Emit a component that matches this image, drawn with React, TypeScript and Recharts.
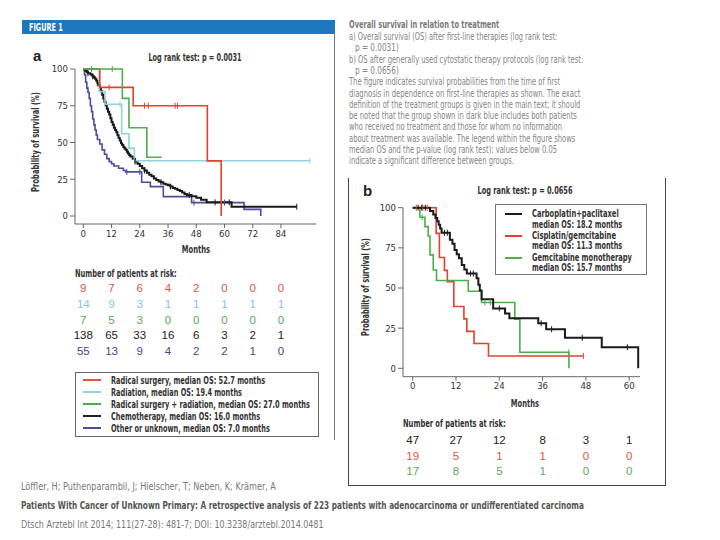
import React, { useLayoutEffect, useRef, useState } from 'react';
import { LineChart, Line, XAxis, YAxis } from 'recharts';

const FONT = '"Liberation Sans Narrow", "DejaVu Sans Condensed", "Arial Narrow", sans-serif';
const NUMFONT = '"Liberation Sans", Arial, sans-serif';

// panel a
const monthsA = [0, 12, 24, 36, 48, 60, 72, 84];
const pctTicks = [0, 25, 50, 75, 100];

const radicalSurgery = [[0, 100], [7, 87.5], [21.2, 75], [52.7, 37.5], [58.6, 0]];
const radiation = [[0, 100], [6.8, 84.6], [9.2, 76], [16.3, 56], [19.4, 46], [21.7, 37.6], [96.3, 37.6]];
const surgeryRadiation = [[0, 100], [16.6, 80], [19.4, 60], [27, 40], [33.3, 40]];
const chemotherapy = [
  [0, 100], [0.5, 99.3], [1, 98.6], [1.5, 97.8], [2, 97.1], [3, 96.4], [3.5, 95.7], [4, 95], [4.5, 94.2],
  [5, 93.3], [5.5, 92], [6, 90.5], [6.5, 89], [7, 87], [7.5, 84.8], [8, 82.5], [8.5, 80], [9, 77.5],
  [9.5, 75.3], [10, 73], [10.5, 71], [11, 69], [11.5, 66.5], [12, 64], [12.5, 62], [13, 60], [13.5, 58.5],
  [14, 57], [14.5, 55], [15, 53], [15.5, 51.3], [16, 49.5], [16.5, 48.3], [17, 47], [17.5, 46], [18, 45],
  [18.5, 43.7], [19, 42.5], [19.5, 41.5], [20, 40.5], [21, 39], [22, 37], [23, 35.5], [24, 34], [25, 32.5],
  [26, 31], [27, 29.5], [28, 28], [29, 27], [30, 25.5], [31, 24.5], [32, 23.5], [33, 23], [34, 22],
  [35, 21.5], [36, 21], [37, 20], [38, 19], [39, 18.5], [40, 17.7], [41, 17], [42, 16], [43, 15],
  [44, 14.3], [46, 13.5], [48, 12.5], [50, 11], [52.4, 9.3], [63, 6.3], [90.7, 6.3],
];
const otherUnknown = [
  [0, 100], [0.5, 96], [1, 91], [1.5, 87], [2, 84], [2.5, 80], [3, 75], [3.5, 71], [4, 66], [4.5, 62],
  [5, 58.5], [5.5, 55], [6, 52], [7, 49], [8, 45], [9, 42], [10, 39], [11, 37], [12, 35.5], [13, 34],
  [15, 32.5], [17, 31], [18, 30], [24.8, 23], [28.5, 20], [34, 13.2], [46, 9.1], [68.3, 4.5], [75.4, 0],
];

// censored observations (small vertical ticks)
const censorRadical = [[11, 87.5], [26, 75], [27.6, 75], [39, 75], [40, 75]];
const censorSurgRad = [[3.5, 100], [12.3, 100]];
const censorRadiation = [[15.6, 76], [96.3, 37.6]];
const censorChemo = [[2, 97.1], [4, 95], [6, 90.5], [22, 37], [26, 31], [33, 23], [37, 20], [45, 14.3], [56, 9.3], [62, 9.3], [90.7, 6.3]];
const censorOther = [[18.5, 30], [24, 30], [47, 9.1], [60, 9.1]];

const riskA = [
  { color: '#d9573d', values: [9, 7, 6, 4, 2, 0, 0, 0] },
  { color: '#7fc9d3', values: [14, 9, 3, 1, 1, 1, 1, 1] },
  { color: '#5aa95c', values: [7, 5, 3, 0, 0, 0, 0, 0] },
  { color: '#222222', values: [138, 65, 33, 16, 6, 3, 2, 1] },
  { color: '#3e4790', values: [55, 13, 9, 4, 2, 2, 1, 0] },
];

const legendA = [
  { color: '#e0553a', label: 'Radical surgery, median OS: 52.7 months', w: 154 },
  { color: '#8fd3dc', label: 'Radiation, median OS: 19.4 months', w: 131 },
  { color: '#4cae4c', label: 'Radical surgery + radiation, median OS: 27.0 months', w: 199 },
  { color: '#222222', label: 'Chemotherapy, median OS: 16.0 months', w: 149 },
  { color: '#4a4d9c', label: 'Other or unknown, median OS: 7.0 months', w: 159 },
];

// panel b
const monthsB = [0, 12, 24, 36, 48, 60];

const carboPacli = [
  [0, 100], [4.8, 97.9], [5.7, 95.7], [6.3, 93.6], [6.8, 91.5], [7.2, 89.4], [7.6, 87], [8, 84.4],
  [10.3, 80], [11, 77.5], [11.6, 73.7], [12.2, 71], [12.8, 68.5], [13.6, 64.3], [14.3, 61.5], [15, 59],
  [17.7, 56], [18.2, 52], [18.6, 48.5], [19.1, 43], [22.3, 37.3], [25.6, 34.2], [26.8, 31.1], [34.8, 28],
  [37, 24.3], [42.2, 19], [52.4, 13.1], [62.5, 0],
];
const cisGem = [[0, 100], [6.5, 84], [7.4, 69], [8.8, 61], [9.6, 54], [11.4, 38.5], [14.2, 30.8], [15, 23], [17, 15.4], [21, 7.7], [47.3, 7.7]];
const gemMono = [[0, 100], [2, 94.1], [3.4, 88.2], [4.3, 82.4], [4.8, 70.6], [5.7, 61.2], [6.6, 54.7], [15.4, 48], [19.1, 41], [28.3, 30.5], [29.7, 10], [43.3, 0]];

const censorCarbo = [[1.5, 100], [2.5, 100], [3.5, 100], [8.8, 84.4], [9.6, 84.4], [16, 59], [16.8, 59], [24, 37.3], [35.6, 28], [38.5, 24.3], [47, 19], [59.5, 13.1]];
const censorCis = [[1, 100], [2.8, 100], [4, 100], [47.3, 7.7]];
const censorGem = [[2.6, 94.1], [20, 41], [21.5, 41], [43.3, 10]];

const riskB = [
  { color: '#222222', values: [47, 27, 12, 8, 3, 1] },
  { color: '#d9573d', values: [19, 5, 1, 1, 0, 0] },
  { color: '#5aa95c', values: [17, 8, 5, 1, 0, 0] },
];

const legendB = [
  { color: '#1a1a1a', name: 'Carboplatin+paclitaxel', nw: 87, median: 'median OS: 18.2 months' },
  { color: '#e3412b', name: 'Cisplatin/gemcitabine', nw: 84, median: 'median OS: 11.3 months' },
  { color: '#4cae4c', name: 'Gemcitabine monotherapy', nw: 100, median: 'median OS: 15.7 months' },
];

const caption = [
  { text: 'a) Overall survival (OS) after first-line therapies (log rank test:', w: 208, indent: 0 },
  { text: 'p = 0.0031)', w: 44, indent: 6 },
  { text: 'b) OS after generally used cytostatic therapy protocols (log rank test:', w: 234, indent: 0 },
  { text: 'p = 0.0656)', w: 44, indent: 6 },
  { text: 'The figure indicates survival probabilities from the time of first', w: 211, indent: 0 },
  { text: 'diagnosis in dependence on first-line therapies as shown. The exact', w: 231, indent: 0 },
  { text: 'definition of the treatment groups is given in the main text; it should', w: 231, indent: 0 },
  { text: 'be noted that the group shown in dark blue includes both patients', w: 228, indent: 0 },
  { text: 'who received no treatment and those for whom no information', w: 213, indent: 0 },
  { text: 'about treatment was available. The legend within the figure shows', w: 226, indent: 0 },
  { text: 'median OS and the p-value (log rank test); values below 0.05', w: 208, indent: 0 },
  { text: 'indicate a significant difference between groups.', w: 165, indent: 0 },
];

const toRows = (pts: number[][]) => pts.map(([m, s]) => ({ m, s }));

// text squeezed horizontally to the width it has in the picture (no condensed font installed)
function Txt({ x, y, w, children, size = 10, weight = 400, color = '#333', center = false, font = FONT, rotate = false }: any) {
  const ref = useRef<HTMLDivElement>(null);
  const [k, setK] = useState(1);
  useLayoutEffect(() => {
    if (w && ref.current) {
      const ow = ref.current.offsetWidth;
      if (ow > 0) setK(w / ow);
    }
  }, [w]);
  let tf = center ? 'translate(-50%,-50%)' : 'translate(0,-50%)';
  if (rotate) tf = 'translate(-50%,-50%) rotate(-90deg)';
  tf += ` scaleX(${k})`;
  return (
    <div
      ref={ref}
      style={{
        position: 'absolute', left: x, top: y, transform: tf, transformOrigin: center || rotate ? 'center' : 'left center',
        fontSize: size, fontWeight: weight, color, fontFamily: font, whiteSpace: 'pre', lineHeight: 1,
      }}
    >
      {children}
    </div>
  );
}

const tickStyle = { fontSize: 9.5, fill: '#333', fontFamily: FONT };

function series(data: number[][], color: string, w = 1.6) {
  return (
    <Line data={toRows(data)} dataKey="s" type="stepAfter" stroke={color} strokeWidth={w} dot={false} isAnimationActive={false} />
  );
}

function censors(data: number[][], color: string) {
  const tick = (p: any) => (
    <line key={p.index} x1={p.cx} x2={p.cx} y1={p.cy - 3} y2={p.cy + 3} stroke={color} strokeWidth={1} />
  );
  return (
    <Line data={toRows(data)} dataKey="s" stroke="none" dot={tick} activeDot={false} legendType="none" isAnimationActive={false} />
  );
}

export default function App() {
  const xA = (m: number) => 83.3 + m * 2.353;
  const xB = (m: number) => 412.7 + m * 3.61;
  return (
    <div style={{ position: 'absolute', left: 0, top: 0, width: 720, height: 540, background: '#fff', overflow: 'hidden' }}>
      {/* header bar + frame */}
      <div style={{ position: 'absolute', left: 22, top: 20, width: 313, height: 14, background: '#1d78bd' }} />
      <Txt x={29} y={27.5} w={34} size={10} weight={700} color="#fff">FIGURE 1</Txt>
      <div style={{ position: 'absolute', left: 334, top: 34, width: 1, height: 406, background: '#777' }} />
      <div style={{ position: 'absolute', left: 348, top: 178, width: 316, height: 307, borderLeft: '1px solid #444', borderRight: '1px solid #444', borderBottom: '1px solid #444' }} />

      {/* caption */}
      <Txt x={349} y={24} w={150} size={11} weight={700} color="#7a7a7a">Overall survival in relation to treatment</Txt>
      {caption.map((line, i) => (
        <Txt key={i} x={349 + line.indent} y={36 + i * 11.3} w={line.w} size={10.5} color="#858585">{line.text}</Txt>
      ))}

      {/* panel a */}
      <Txt x={33} y={55} size={15} weight={700} font={NUMFONT} color="#222">a</Txt>
      <Txt x={195} y={57} w={93} size={11} weight={700} center>Log rank test: p = 0.0031</Txt>
      <Txt x={35} y={142} w={100} size={11} weight={700} rotate>Probability of survival (%)</Txt>
      <Txt x={196} y={249} w={28} size={11} weight={700} center>Months</Txt>
      <div style={{ position: 'absolute', left: 20, top: 60 }}>
        <LineChart width={310} height={185} margin={{ top: 9, right: 13.7, bottom: 0, left: 0 }}>
          <XAxis type="number" dataKey="m" domain={[0, 99]} ticks={monthsA} padding={{ left: 8.3, right: 0 }} height={21} tickSize={4} tick={tickStyle} stroke="#666" />
          <YAxis type="number" domain={[0, 100]} ticks={pctTicks} padding={{ top: 0, bottom: 8 }} width={55} tickSize={5} tick={tickStyle} stroke="#666" />
          {series(otherUnknown, '#4a4d9c')}
          {series(chemotherapy, '#1a1a1a', 2)}
          {series(radiation, '#8fd3dc')}
          {series(radicalSurgery, '#e3412b')}
          {series(surgeryRadiation, '#4cae4c')}
          {censors(censorOther, '#4a4d9c')}
          {censors(censorChemo, '#1a1a1a')}
          {censors(censorRadiation, '#8fd3dc')}
          {censors(censorRadical, '#e3412b')}
          {censors(censorSurgRad, '#4cae4c')}
        </LineChart>
      </div>

      <Txt x={75} y={273} w={102} size={11} weight={700}>Number of patients at risk:</Txt>
      {riskA.map((row, r) =>
        row.values.map((v, c) => (
          <Txt key={r + '-' + c} x={xA(monthsA[c])} y={289.3 + r * 15.7} size={11.5} center font={NUMFONT} color={row.color}>{v}</Txt>
        ))
      )}
      <div style={{ position: 'absolute', left: 75, top: 372, width: 242, height: 63, border: '1px solid #666' }} />
      {legendA.map((e, i) => (
        <React.Fragment key={i}>
          <div style={{ position: 'absolute', left: 83, top: 379 + i * 12.1, width: 18, height: 2, background: e.color }} />
          <Txt x={110.7} y={380 + i * 12.1} w={e.w} size={10.5} weight={700}>{e.label}</Txt>
        </React.Fragment>
      ))}

      {/* panel b */}
      <Txt x={363} y={190} size={15} weight={700} font={NUMFONT} color="#222">b</Txt>
      <Txt x={525} y={190} w={95} size={11} weight={700} center>Log rank test: p = 0.0656</Txt>
      <Txt x={365} y={287} w={98} size={11} weight={700} rotate>Probability of survival (%)</Txt>
      <Txt x={525} y={403} w={28} size={11} weight={700} center>Months</Txt>
      <div style={{ position: 'absolute', left: 350, top: 195 }}>
        <LineChart width={300} height={200} margin={{ top: 12.7, right: 10, bottom: 0, left: 0 }}>
          <XAxis type="number" dataKey="m" domain={[0, 63]} ticks={monthsB} padding={{ left: 9.7, right: 0 }} height={18.3} tickSize={4} tick={tickStyle} stroke="#666" />
          <YAxis type="number" domain={[0, 100]} ticks={pctTicks} padding={{ top: 0, bottom: 8.4 }} width={53} tickSize={5} tick={tickStyle} stroke="#666" />
          {series(cisGem, '#e3412b')}
          {series(gemMono, '#4cae4c')}
          {series(carboPacli, '#1a1a1a', 2)}
          {censors(censorCis, '#e3412b')}
          {censors(censorGem, '#4cae4c')}
          {censors(censorCarbo, '#1a1a1a')}
        </LineChart>
      </div>
      <div style={{ position: 'absolute', left: 495, top: 204, width: 150, height: 69, border: '1px solid #777', background: '#fff' }} />
      {legendB.map((e, i) => (
        <React.Fragment key={i}>
          <div style={{ position: 'absolute', left: 505, top: 213 + i * 21.8, width: 17, height: 2, background: e.color }} />
          <Txt x={531.7} y={214 + i * 21.8} w={e.nw} size={9.8} weight={700}>{e.name}</Txt>
          <Txt x={531.7} y={224.5 + i * 21.8} w={90} size={9.8} weight={700}>{e.median}</Txt>
        </React.Fragment>
      ))}
      <Txt x={403} y={423} w={103} size={11} weight={700}>Number of patients at risk:</Txt>
      {riskB.map((row, r) =>
        row.values.map((v, c) => (
          <Txt key={'b' + r + '-' + c} x={xB(monthsB[c])} y={441 + r * 15.5} size={11.5} center font={NUMFONT} color={row.color}>{v}</Txt>
        ))
      )}

      {/* citation */}
      <Txt x={21} y={487} w={255} size={10} color="#777">Löffler, H; Puthenparambil, J; Hielscher, T; Neben, K; Krämer, A</Txt>
      <Txt x={21} y={506} w={563} size={10} weight={700} color="#555">Patients With Cancer of Unknown Primary: A retrospective analysis of 223 patients with adenocarcinoma or undifferentiated carcinoma</Txt>
      <Txt x={21} y={525} w={303} size={10} color="#777">Dtsch Arztebl Int 2014; 111(27-28): 481-7; DOI: 10.3238/arztebl.2014.0481</Txt>
    </div>
  );
}
